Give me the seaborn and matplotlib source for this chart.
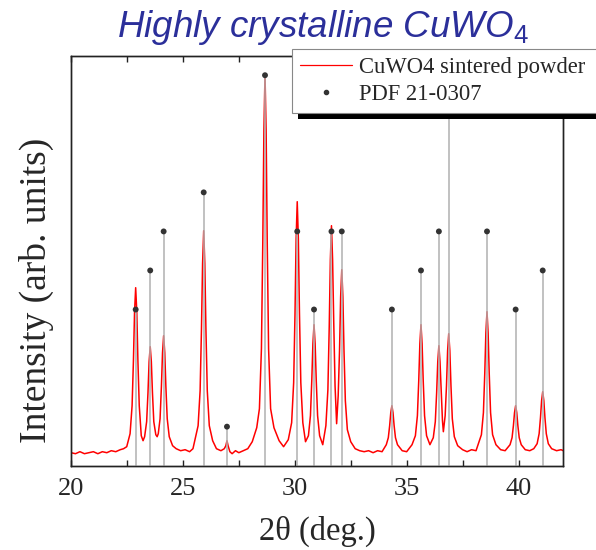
import matplotlib
matplotlib.use("Agg")
import matplotlib.pyplot as plt
import numpy as np
import pandas as pd
import seaborn as sns
from matplotlib.lines import Line2D
from matplotlib.patches import Rectangle
from matplotlib.ticker import MultipleLocator

# ---- measured XRD pattern (2theta in deg, intensity in arb. units) ----
two_theta = [
    20.00, 20.20, 20.40, 20.60, 20.80, 21.00, 21.20, 21.40, 21.60, 21.80, 22.00, 22.20, 22.35,
    22.49, 22.64, 22.73, 22.79, 22.84, 22.89, 22.94, 22.99, 23.05, 23.14, 23.22,
    23.29, 23.38, 23.44, 23.49, 23.54, 23.59, 23.64, 23.70, 23.79, 23.85,
    23.90, 23.98, 24.04, 24.09, 24.14, 24.19, 24.24, 24.30, 24.39, 24.54,
    24.70, 24.90, 25.10, 25.30, 25.45,
    25.53, 25.68, 25.77, 25.83, 25.88, 25.93, 25.98, 26.03, 26.09, 26.18, 26.33,
    26.50, 26.70, 26.85, 26.92, 26.97, 27.02, 27.10, 27.20, 27.35, 27.50, 27.70, 27.90,
    28.10, 28.30, 28.42, 28.51, 28.57, 28.62, 28.67, 28.72, 28.77, 28.83, 28.92, 29.07, 29.30, 29.50,
    29.71, 29.86, 29.95, 30.01, 30.06, 30.11, 30.16, 30.21, 30.27, 30.36, 30.48,
    30.61, 30.70, 30.76, 30.81, 30.86, 30.91, 30.96, 31.02, 31.11, 31.25,
    31.39, 31.48, 31.54, 31.59, 31.64, 31.69, 31.74, 31.80, 31.87,
    31.94, 32.00, 32.05, 32.10, 32.15, 32.20, 32.26, 32.35, 32.50,
    32.70, 32.90, 33.10, 33.30, 33.50, 33.70, 33.90,
    34.09, 34.18, 34.24, 34.29, 34.34, 34.39, 34.44, 34.50, 34.59, 34.80, 35.00,
    35.24, 35.39, 35.48, 35.54, 35.59, 35.64, 35.69, 35.74, 35.80, 35.89, 36.04,
    36.19, 36.28, 36.34, 36.39, 36.44, 36.49, 36.54, 36.60, 36.64,
    36.72, 36.78, 36.83, 36.88, 36.93, 36.98, 37.04, 37.13, 37.28,
    37.50, 37.70, 37.90, 38.10,
    38.19, 38.34, 38.43, 38.49, 38.54, 38.59, 38.64, 38.69, 38.75, 38.84, 38.99, 39.20, 39.40,
    39.62, 39.71, 39.77, 39.82, 39.87, 39.92, 39.97, 40.03, 40.12, 40.30, 40.50,
    40.68, 40.83, 40.92, 40.98, 41.03, 41.08, 41.13, 41.18, 41.24, 41.33, 41.48,
    41.70, 41.90, 42.00,
]
intensity = [
    13, 12, 14, 12, 13, 14, 12, 14, 13, 15, 14, 16, 17,
    19, 32, 60, 105, 154, 178, 154, 105, 60, 30, 25,
    29, 44, 73, 104, 119, 104, 73, 44, 31, 29,
    32, 47, 79, 113, 130, 113, 79, 47, 29, 20,
    17, 15, 16, 14, 17,
    25, 40, 75, 136, 202, 235, 202, 136, 75, 40, 25,
    17, 15, 17, 20, 25, 20, 14, 12, 15, 13, 15, 17,
    24, 38, 57, 117, 222, 335, 391, 335, 222, 117, 57, 38, 25, 19,
    26, 43, 83, 152, 227, 264, 227, 152, 83, 43, 24,
    30, 50, 85, 122, 141, 122, 85, 50, 30, 21,
    40, 76, 139, 206, 240, 206, 145, 80, 42,
    70, 115, 169, 196, 169, 115, 65, 36, 24,
    17, 15, 14, 15, 13, 15, 14,
    21, 28, 40, 53, 60, 53, 40, 28, 21, 15, 14,
    21, 30, 50, 85, 122, 141, 122, 85, 50, 30, 21,
    28, 44, 73, 104, 120, 104, 76, 45, 34,
    50, 80, 115, 132, 115, 80, 47, 29, 20,
    16, 14, 16, 15,
    21, 31, 53, 92, 133, 154, 133, 92, 53, 31, 21, 16, 15,
    21, 28, 40, 53, 60, 53, 40, 28, 21, 16, 15,
    17, 22, 32, 48, 65, 74, 65, 48, 32, 22, 17,
    15, 16, 15,
]

# ---- reference pattern PDF 21-0307 (positions, relative intensities) ----
pdf_positions = [22.89, 23.54, 24.14, 25.93, 26.97, 28.67, 30.11, 30.86, 31.64,
                 32.10, 34.34, 35.64, 36.44, 36.88, 38.59, 39.87, 41.08]
pdf_rel = [40, 50, 60, 70, 10, 100, 60, 40, 60, 60, 40, 50, 60, 100, 60, 40, 50]

x_ticks = [20, 25, 30, 35, 40]
series_labels = ["CuWO4 sintered powder", "PDF 21-0307"]

sns.set_style("ticks")
plt.rcParams["font.family"] = ["Liberation Serif", "DejaVu Serif"]
plt.rcParams["mathtext.fontset"] = "custom"
plt.rcParams["mathtext.rm"] = "Liberation Sans"
plt.rcParams["mathtext.it"] = "Liberation Sans:italic"

fig = plt.figure(figsize=(5.96, 5.5), dpi=100)
ax = fig.add_axes([71 / 596, 1 - 465.7 / 550, 492.3 / 596, 410 / 550])

df = pd.DataFrame({"two_theta": two_theta, "intensity": intensity})
sns.lineplot(data=df, x="two_theta", y="intensity", ax=ax, color="#ff0000",
             linewidth=1.1, sort=False, estimator=None, legend=False)
ax.set_xlim(20, 42)
ax.set_ylim(0, 410)

ax2 = ax.twinx()
ax2.set_ylim(0, 105)
ax2.vlines(pdf_positions, 0, pdf_rel, color="#b0b0b0", linewidth=1.1, zorder=2)
sns.scatterplot(x=pdf_positions, y=pdf_rel, ax=ax2, color="#333333", s=18,
                edgecolor="none", zorder=3, legend=False)
ax2.set_yticks([])
ax2.set_ylabel("")

ax.set_yticks([])
ax.xaxis.set_major_locator(MultipleLocator(5))
ax.xaxis.set_minor_locator(MultipleLocator(2.5))
ax.set_xticks(x_ticks)
ax.set_xticklabels([str(t) for t in x_ticks])
ax.tick_params(axis="x", which="both", direction="in", top=True, bottom=True,
               length=4, width=1, color="#222222")
ax.tick_params(axis="x", labelsize=19, pad=9)
for a in (ax, ax2):
    for s in a.spines.values():
        s.set_color("#222222")
        s.set_linewidth(1.0)

ax.set_xlabel("2θ (deg.)", fontsize=23.5, labelpad=11)
ax.set_ylabel("Intensity (arb. units)", fontsize=27)
ax.yaxis.set_label_coords(-0.0345, 0.4285)

fig.text(323 / 596, 1 - 37 / 550, r"Highly crystalline CuWO$_\mathit{4}$",
         ha="center", va="baseline", fontsize=26.5, color="#2b2f9a",
         family="Liberation Sans", style="italic")

# legend frame (extends past the right edge of the figure) with black shadow
fig.add_artist(Rectangle((298 / 596, 1 - 118.5 / 550), 310 / 596, 63 / 550,
                         transform=fig.transFigure, facecolor="black",
                         edgecolor="none", zorder=4))
fig.add_artist(Rectangle((292 / 596, 1 - 112.7 / 550), 320 / 596, 63.7 / 550,
                         transform=fig.transFigure, facecolor="white",
                         edgecolor="#888888", linewidth=0.8, zorder=4.5))

handles = [Line2D([], [], color="#ff0000", linewidth=0.9),
           Line2D([], [], linestyle="none", marker="o", markersize=3,
                  color="#333333")]
leg = fig.legend(handles, series_labels, loc="upper left",
                 bbox_to_anchor=(292 / 596, 1 - 49 / 550),
                 bbox_transform=fig.transFigure, fontsize=16.3, frameon=False,
                 borderpad=0.35, labelspacing=0.25, handlelength=2.3,
                 handletextpad=0.3, borderaxespad=0)
leg.set_zorder(6)

fig.savefig("out.png", dpi=100)
